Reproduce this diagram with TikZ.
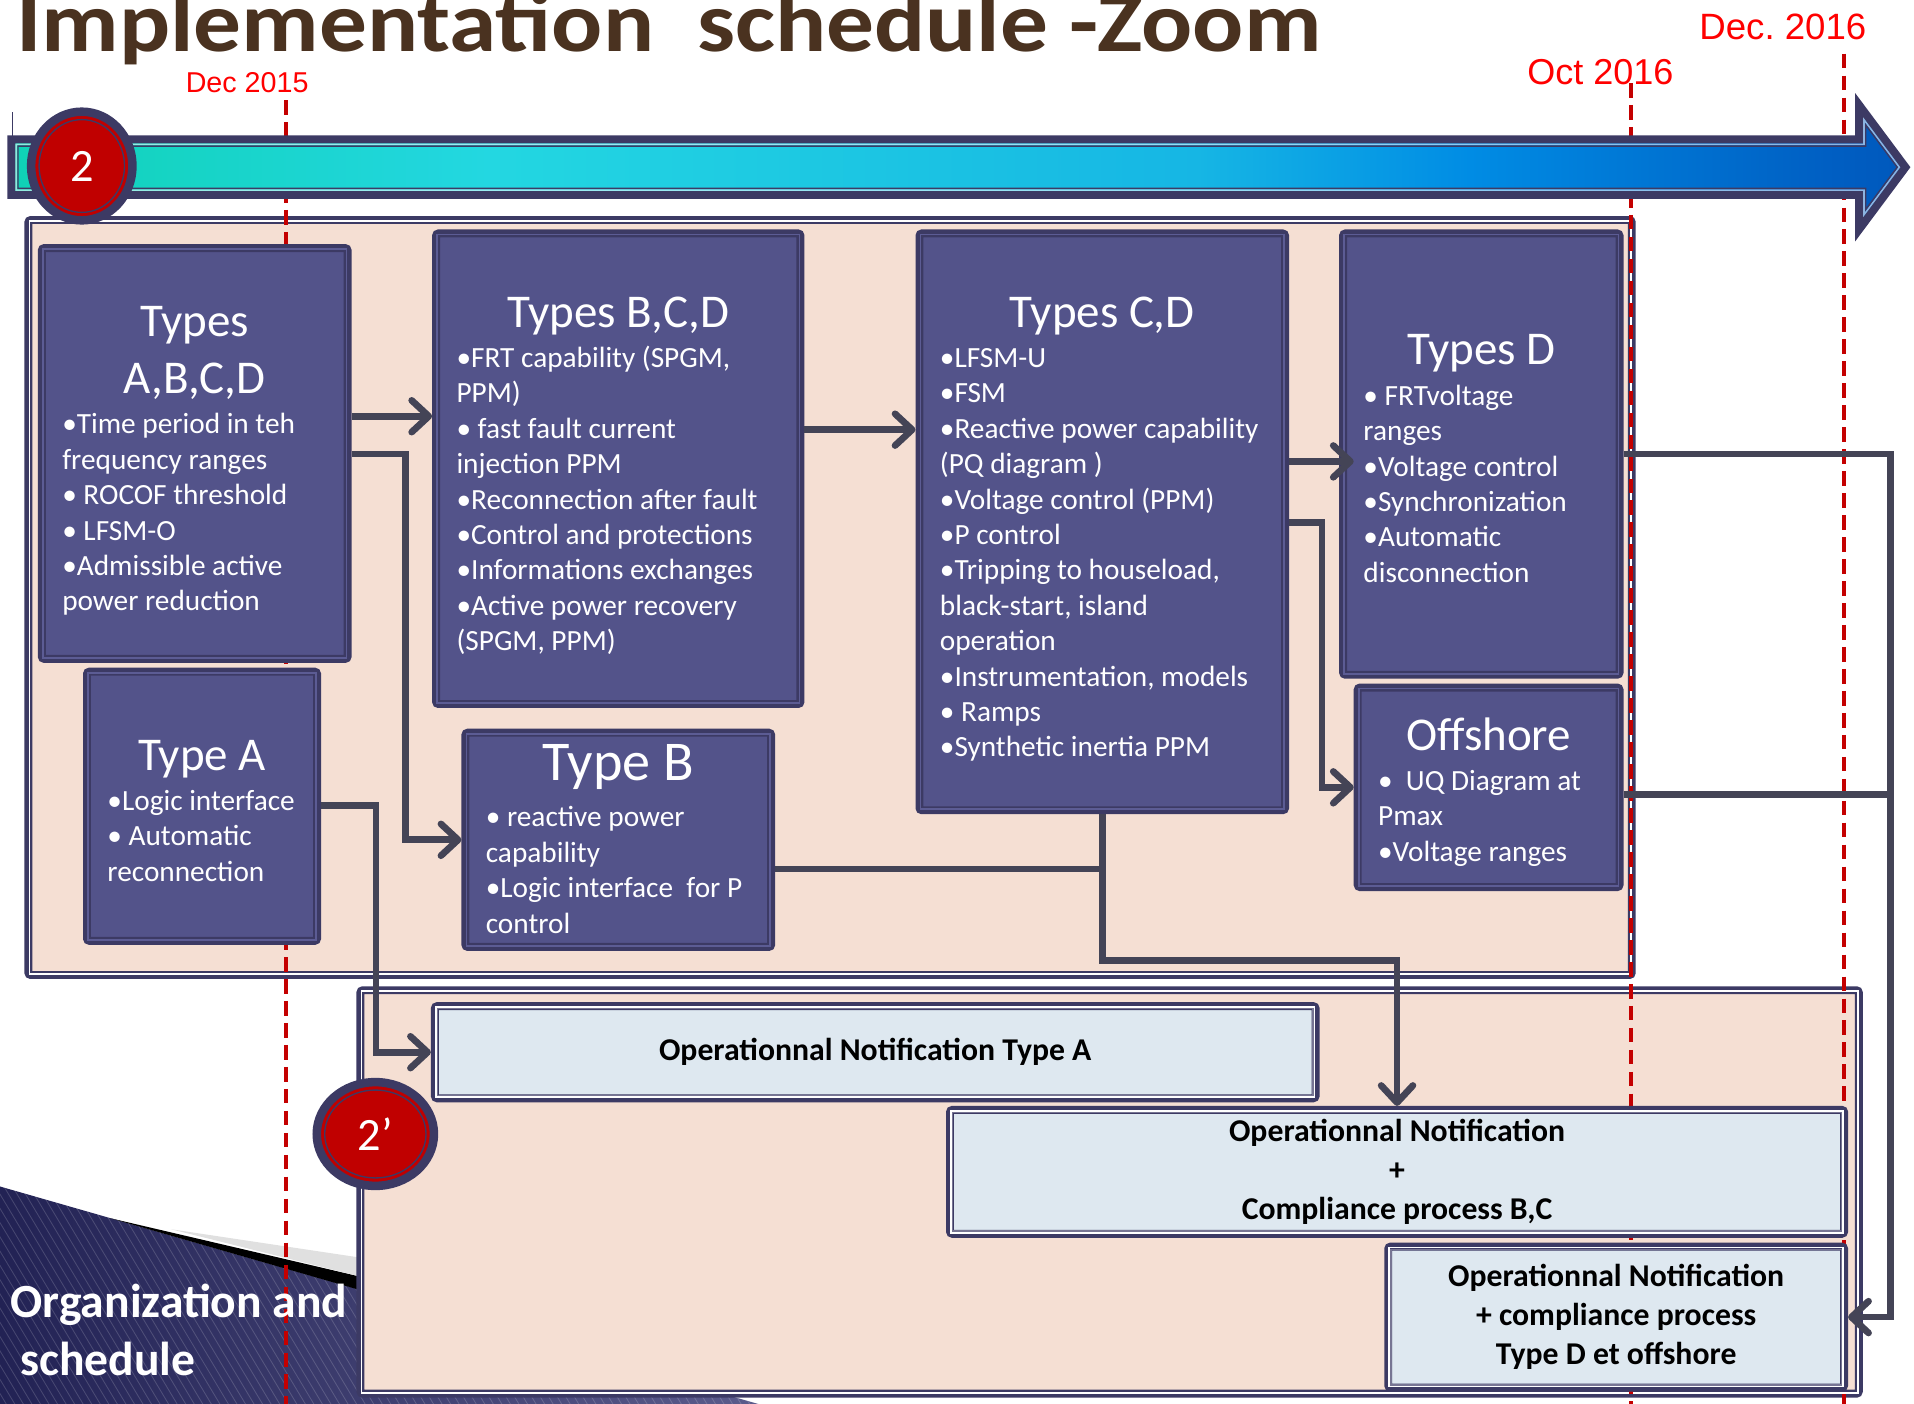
\documentclass[tikz,border=0pt]{standalone}
\usepackage{fontspec}
\usepackage{graphicx}
\setmainfont{Carlito}
\newfontfamily\arialf{Liberation Sans}
\usetikzlibrary{arrows.meta,shapes.geometric}

\definecolor{navy}{RGB}{60,58,100}
\definecolor{boxfill}{RGB}{83,83,138}
\definecolor{boxband}{RGB}{92,92,148}
\definecolor{pinkbg}{RGB}{245,223,211}
\definecolor{lightbox}{RGB}{222,232,240}
\definecolor{connc}{RGB}{68,68,86}
\definecolor{datered}{RGB}{255,0,0}
\definecolor{lined}{RGB}{196,0,0}
\definecolor{badgered}{RGB}{192,0,0}
\definecolor{titlebrown}{RGB}{74,50,32}
\definecolor{bgdark}{RGB}{34,34,84}
\definecolor{bglight}{RGB}{104,104,152}
\definecolor{tlA}{RGB}{15,210,182}
\definecolor{tlB}{RGB}{35,215,225}
\definecolor{tlC}{RGB}{22,182,228}
\definecolor{tlD}{RGB}{0,140,228}
\definecolor{tlE}{RGB}{0,95,195}
\definecolor{tlF}{RGB}{0,88,188}

% left-to-right colour run of the timeline arrow
\pgfdeclarehorizontalshading{timeline}{100bp}{%
  color(0bp)=(tlA); color(25bp)=(tlA); color(37.6bp)=(tlB); color(56.3bp)=(tlC);
  color(63.5bp)=(tlD); color(72.9bp)=(tlE); color(75bp)=(tlF); color(100bp)=(tlF)}

% thin inner rim lines of a framed node
\newcommand\rimlines[3]{%
  \draw[#2, line width=1.4pt] ([shift={(4.05pt,-4.05pt)}]#1.north west) rectangle ([shift={(-4.05pt,4.05pt)}]#1.south east);
  \draw[#3, line width=1.1pt] ([shift={(5.45pt,-5.45pt)}]#1.north west) rectangle ([shift={(-5.45pt,5.45pt)}]#1.south east);
}

% heading plus bullet list inside a requirement box
% [heading size]{width}{top skip}{heading}{bullet lines}
\newcommand\boxbody[5][38.5]{%
  \parbox{#2}{\vspace*{#3}\centering\fontsize{#1}{47}\selectfont #4\par
  \vspace{4pt}\raggedright\fontsize{24}{29}\selectfont
  \begin{tabular}[t]{@{}l@{}}#5\end{tabular}}}

\tikzset{
  darkbox/.style={draw=navy, line width=6.5pt, fill=boxfill, rounded corners=2pt, inner sep=0pt, text=white},
  litebox/.style={draw=navy, line width=6.5pt, fill=lightbox, rounded corners=2pt, inner sep=0pt,
    align=center, font=\bfseries\fontsize{26}{32}\selectfont},
  frame/.style={draw=navy, line width=6.5pt, fill=pinkbg, rounded corners=2pt, inner sep=0pt},
  conn/.style={draw=connc, line width=5.5pt, -{Straight Barb[length=14pt,width=26pt,round]}},
  connline/.style={draw=connc, line width=5.5pt},
  dateline/.style={draw=lined, line width=3.3pt, dash pattern=on 12pt off 6pt},
  datelabel/.style={anchor=base west, inner sep=0pt, text=datered, font=\arialf\fontsize{#1}{#1}\selectfont},
  badge/.style={ellipse, draw=navy, line width=7pt, fill=badgered, inner sep=0pt, text=white,
    font=\fontsize{38}{40}\selectfont},
  bigword/.style={anchor=base west, inner sep=0pt, text=white, font=\bfseries\fontsize{39}{47}\selectfont},
}

\begin{document}
\begin{tikzpicture}[x=1pt,y=-1pt]
\clip (0,0) rectangle (1568,1150);
\fill[white] (0,0) rectangle (1568,1150);

% hatched band in the lower left corner
\begin{scope}
  \clip (0,972) -- (760,1190) -- (760,1160) -- (0,1160) -- cycle;
  \shade[left color=bgdark, right color=bglight] (0,960) rectangle (760,1160);
  \foreach \i in {-200,-193,...,760}
    \draw[white, opacity=.16, line width=.7pt] (\i,960) -- ++(120,200);
\end{scope}
\fill[black] (90,997.9) -- (300,1047) -- (300,1058.3) -- cycle;
\fill[black!12] (140,1007) -- (300,1031) -- (300,1047) -- cycle;

% the two phase frames
\node[frame, minimum width=1313.5pt, minimum height=618.5pt] (upper) at (680,489.5) {};
\rimlines{upper}{white}{navy}
\node[frame, minimum width=1227.5pt, minimum height=330.5pt] (lower) at (909,976.5) {};
\rimlines{lower}{white}{navy}

% milestone guides
\draw[dateline] (234,82) -- (234,1150);
\draw[dateline] (1336.5,68) -- (1336.5,1150);
\draw[dateline] (1511,44) -- (1511,1150);

% small mark at the left end of the timeline
\draw[navy, line width=.8pt] (10,92) -- (10,112);

% timeline arrow
\path[shade, shading=timeline, draw=navy, line width=6.5pt, line join=miter]
  (9.25,114.25) -- (1523,114.25) -- (1523,86) -- (1561,137) -- (1523,188) -- (1523,159.75) -- (9.25,159.75) -- cycle;
\draw[white, opacity=.55, line width=1.3pt]
  (13.3,118.3) -- (1527.05,118.3) -- (1527.05,98.2) -- (1555.95,137) -- (1527.05,175.8) -- (1527.05,155.7) -- (13.3,155.7) -- cycle;
\draw[navy, line width=1.1pt]
  (14.7,119.7) -- (1528.45,119.7) -- (1528.45,102.4) -- (1554.2,137) -- (1528.45,171.6) -- (1528.45,154.3) -- (14.7,154.3) -- cycle;

% requirement boxes
\node[darkbox, minimum width=250.5pt, minimum height=336.5pt] (tabcd) at (159.5,371.5)
  {\boxbody{217pt}{17pt}{Types\\A,B,C,D}{•Time period in teh\\frequency ranges\\• ROCOF threshold\\• LFSM-O\\•Admissible active\\power reduction}};
\rimlines{tabcd}{boxband}{navy}
\node[darkbox, minimum width=188.5pt, minimum height=220.5pt] (typeA) at (165.5,660.5)
  {\boxbody{155pt}{16pt}{Type A}{•Logic interface\\• Automatic\\reconnection}};
\rimlines{typeA}{boxband}{navy}
\node[darkbox, minimum width=298.5pt, minimum height=385.5pt] (tbcd) at (506.5,384)
  {\boxbody{265pt}{17pt}{Types B,C,D}{•FRT capability (SPGM,\\PPM)\\• fast fault current\\injection PPM\\•Reconnection after fault\\•Control and protections\\•Informations exchanges\\•Active power recovery\\(SPGM, PPM)}};
\rimlines{tbcd}{boxband}{navy}
\node[darkbox, minimum width=250.5pt, minimum height=175.5pt] (typeB) at (506.5,688)
  {\boxbody[46]{217pt}{7pt}{Type B\par\vspace{5pt}}{• reactive power\\capability\\•Logic interface\ \ for P\\control}};
\rimlines{typeB}{boxband}{navy}
\node[darkbox, minimum width=299.5pt, minimum height=472.5pt] (tcd) at (903,427.5)
  {\boxbody{266pt}{17pt}{Types C,D}{•LFSM-U\\•FSM\\•Reactive power capability\\(PQ diagram )\\•Voltage control (PPM)\\•P control\\•Tripping to houseload,\\black-start, island\\operation\\•Instrumentation, models\\• Ramps\\•Synthetic inertia PPM}};
\rimlines{tcd}{boxband}{navy}
\node[darkbox, minimum width=226.5pt, minimum height=361.5pt] (td) at (1213.5,372)
  {\boxbody{193pt}{16pt}{Types D}{• FRTvoltage\\ranges\\•Voltage control\\•Synchronization\\•Automatic\\disconnection}};
\rimlines{td}{boxband}{navy}
\node[darkbox, minimum width=214.5pt, minimum height=163.5pt] (offsh) at (1219.5,645)
  {\boxbody{181pt}{12pt}{Offshore}{•\ \ UQ Diagram at\\Pmax\\•Voltage ranges}};
\rimlines{offsh}{boxband}{navy}

% notification boxes
\node[litebox, minimum width=721.5pt, minimum height=75.5pt] (opA) at (717,862)
  {Operationnal Notification Type A};
\rimlines{opA}{white}{navy!70}
\node[litebox, minimum width=732.5pt, minimum height=101.5pt] (opBC) at (1144.5,960)
  {\rule{0pt}{3pt}Operationnal Notification\\+\\Compliance process B,C};
\rimlines{opBC}{white}{navy!70}
\node[litebox, minimum width=373.5pt, minimum height=115.5pt] (opD) at (1324,1079)
  {Operationnal Notification\\+ compliance process\\Type D et offshore};
\rimlines{opD}{white}{navy!70}

% connectors
\coordinate (jB) at (903,712);
\coordinate (jR) at (1549,651);
\draw[conn] (tabcd.east |- 0,341) -- (tbcd.west |- 0,341);
\draw[conn] (tabcd.east |- 0,372) -| (332,688) -- (typeB.west);
\draw[conn] (tbcd.east |- 0,352) -- (tcd.west |- 0,352);
\draw[conn, shorten >=-12pt] (tcd.east |- 0,378) -- (td.west |- 0,378);
\draw[conn] (tcd.east |- 0,428) -| (1083,645) -- (offsh.west);
\draw[connline] (typeB.east |- jB) -- (jB);
\draw[conn] (tcd.south) |- (opBC.north |- 0,787) -- (opBC.north);
\draw[conn] (typeA.east |- 0,660) -| (308,862) -- (opA.west);
\draw[conn] (td.east |- 0,372) -| (jR) |- (opD.east);
\draw[connline] (offsh.east |- jR) -- (jR);

% phase badges
\node[badge, minimum width=83pt, minimum height=89pt] (b2) at (67,136) {2};
\draw[navy, line width=1.1pt] (b2.center) ellipse [x radius=35pt, y radius=38pt];
\node[badge, minimum width=96pt, minimum height=85pt] (b2p) at (307.5,929) {2’};
\draw[navy, line width=1.1pt] (b2p.center) ellipse [x radius=41.5pt, y radius=36pt];

% headings and dates
\node[anchor=base west, inner sep=0pt, text=titlebrown, font=\bfseries\fontsize{70}{80}\selectfont] (title) at (13,42)
  {\scalebox{1.116}[1]{Implementation\ \ schedule -Zoom}};
\node[datelabel=23.5] (d15) at (152,75.5) {Dec 2015};
\node[datelabel=29.5] (o16) at (1251,69) {Oct 2016};
\node[datelabel=30] (d16) at (1392,32) {Dec.\ 2016};
\node[bigword] (org1) at (8.5,1079) {Organization and};
\node[bigword] (org2) at (16.5,1126.5) {schedule};
\end{tikzpicture}
\end{document}
